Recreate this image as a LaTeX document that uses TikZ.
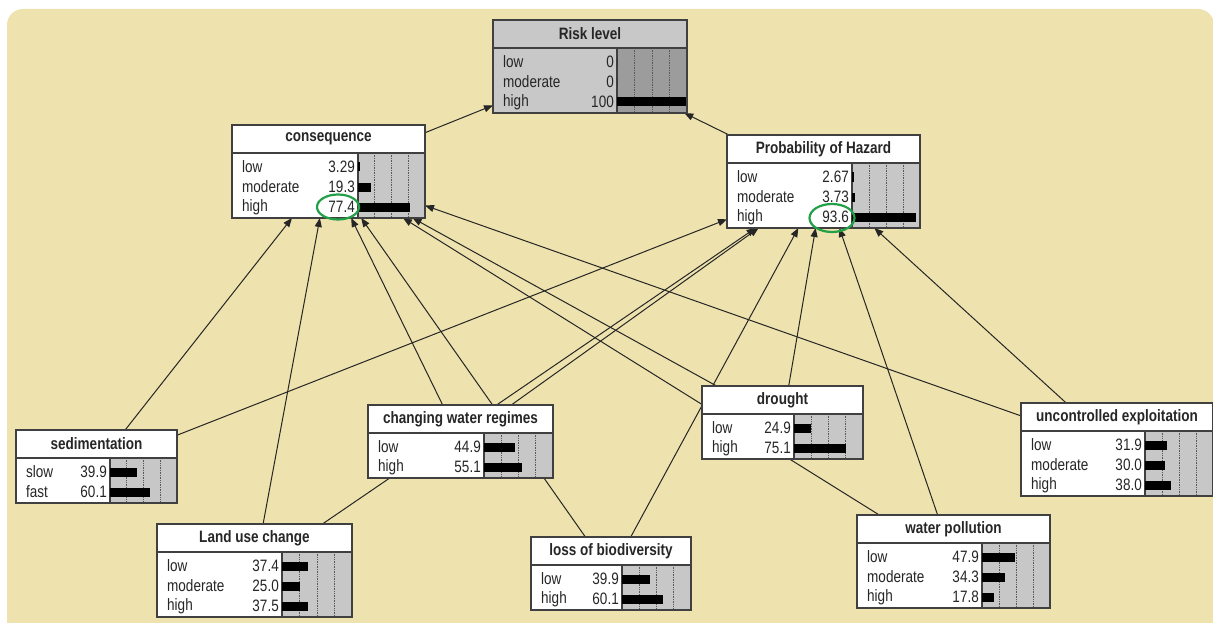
\documentclass[tikz,border=0pt]{standalone}
\usepackage{fontspec}
\setmainfont{Liberation Sans}[FakeStretch=0.82]
\usepackage{tikz}
\usetikzlibrary{arrows.meta, shapes.geometric, calc}
\usepackage{xcolor}

\definecolor{paper}{RGB}{238,226,174}
\definecolor{markgreen}{RGB}{34,160,72}
\definecolor{evidgray}{RGB}{200,200,200}

\pgfdeclarelayer{back}
\pgfsetlayers{back,main}

% net node: [fill] name, top left corner, width, number of states, bar offset, title, states
\newcommand{\netnode}[8][white]{%
  \node[netbox, fill=#1, minimum width=#4pt, minimum height=33pt+20pt*#5] (#2) at (#3) {};
  \begin{scope}[shift={(#2.north west)}]
    \fill[#1!78!black] (#6,28) rectangle (#4,{33+20*#5});
    \foreach \f in {0.25,0.5,0.75}
      \draw[gridline] ({#6+\f*(#4-#6)},28) -- ({#6+\f*(#4-#6)},{33+20*#5});
    \draw[boxline] (0,28) -- (#4,28) (#6,28) -- (#6,{33+20*#5});
    \node[titletext] (#2-title) at ({#4/2},14) {#7};
    \foreach \s/\v [count=\i] in {#8} {
      \node[statetext, anchor=west] (#2-s\i) at (10,{22+20*\i}) {\s};
      \node[statetext, anchor=east] (#2-v\i) at ({#6-3},{22+20*\i}) {\v};
      \fill[black] (#6,{17.5+20*\i}) rectangle ++({\v*(#4-#6)/100},9);
    }
  \end{scope}
  \draw[boxline] (#2.north west) rectangle (#2.south east);
}

\begin{document}
\begin{tikzpicture}[
    x=1pt, y=-1pt,
    netbox/.style={anchor=north west, inner sep=0, outer sep=0},
    boxline/.style={draw=black!75, line width=1.2pt},
    gridline/.style={draw=black!65, densely dotted, line width=0.7pt},
    titletext/.style={font=\fontsize{16.5}{18}\selectfont\bfseries, text=black!85, inner sep=0},
    statetext/.style={font=\fontsize{16.5}{18}\selectfont, text=black!85, inner sep=0},
    link/.style={-{Triangle[length=9pt, width=7pt]}, line width=1pt, black!85},
    hilite/.style={draw=markgreen, line width=2.2pt, ellipse, inner sep=0}
]

\useasboundingbox (0,0) rectangle (1213,623);

% Background
\begin{pgfonlayer}{back}
  \fill[white] (0,0) rectangle (1213,623);
  \fill[paper, rounded corners=16pt] (7,9) rectangle (1214,660);
\end{pgfonlayer}

% Nodes
\netnode[evidgray]{risk}{493,20}{194}{3}{124}{Risk level}{low/0, moderate/0, high/100}
\netnode{con}{232,125}{193}{3}{126}{consequence}{low/3.29, moderate/19.3, high/77.4}
\netnode{poh}{727,135}{193}{3}{125}{Probability of Hazard}{low/2.67, moderate/3.73, high/93.6}
\netnode{sed}{16,430}{161}{2}{94}{sedimentation}{slow/39.9, fast/60.1}
\netnode{cwr}{368,405}{185}{2}{116}{changing water regimes}{low/44.9, high/55.1}
\netnode{dro}{702,386}{161}{2}{92}{drought}{low/24.9, high/75.1}
\netnode{unc}{1021,403}{192}{3}{124}{uncontrolled exploitation}{low/31.9, moderate/30.0, high/38.0}
\netnode{luc}{157,524}{195}{3}{125}{Land use change}{low/37.4, moderate/25.0, high/37.5}
\netnode{lob}{531,537}{160}{2}{91}{loss of biodiversity}{low/39.9, high/60.1}
\netnode{wpo}{857,515}{193}{3}{125}{water pollution}{low/47.9, moderate/34.3, high/17.8}

% Marks
\node[hilite, minimum width=42pt, minimum height=25pt] (conmark) at (338,207) {};
\node[hilite, minimum width=45pt, minimum height=28pt] (pohmark) at (832,218) {};

% Arrows
\begin{pgfonlayer}{back}
  \draw[link] (con) -- (risk);
  \draw[link] (poh) -- (risk);
  \draw[link] (sed) -- (con);
  \draw[link] (sed) -- (poh);
  \draw[link] (luc) -- (con);
  \draw[link] (luc) -- (poh);
  \draw[link] (cwr) -- (con);
  \draw[link] (cwr) -- (poh);
  \draw[link] (lob) -- (con);
  \draw[link] (lob) -- (poh);
  \draw[link] (dro) -- (con);
  \draw[link] (dro) -- (poh);
  \draw[link] (wpo) -- (con);
  \draw[link] (wpo) -- (poh);
  \draw[link] (unc) -- (con);
  \draw[link] (unc) -- (poh);
\end{pgfonlayer}

\end{tikzpicture}
\end{document}
